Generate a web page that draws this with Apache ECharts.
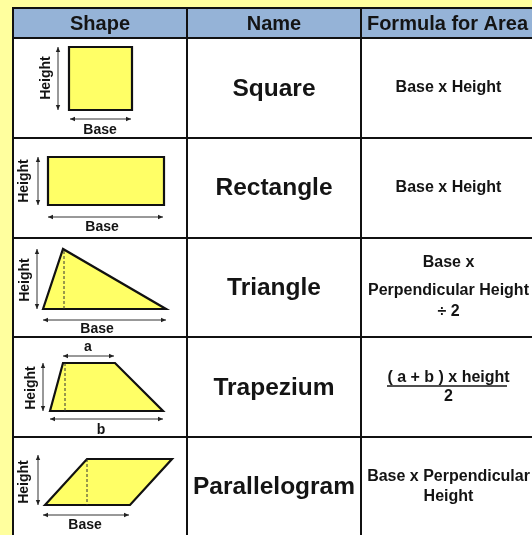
<!DOCTYPE html>
<html><head><meta charset="utf-8">
<script src="https://cdn.jsdelivr.net/npm/echarts@6/dist/echarts.min.js"></script>
<style>html,body{margin:0;padding:0;background:#FFFF9E;}#c{width:532px;height:535px;}</style>
</head><body><div id="c"></div>
<script>
// ---- data ----
const headers = ['Shape', 'Name', 'Formula for Area'];
const shapeNames = ['Square', 'Rectangle', 'Triangle', 'Trapezium', 'Parallelogram'];
const formulas = [
  ['Base x Height'],
  ['Base x Height'],
  ['Base x', 'Perpendicular Height', '÷ 2'],
  ['( a + b ) x height', '2'],
  ['Base x Perpendicular', 'Height']
];
// shape outlines (cell-relative drawing units)
const outlines = [
  [[56, 9], [119, 9], [119, 72], [56, 72]],
  [[35, 19], [151, 19], [151, 67], [35, 67]],
  [[30, 71], [50, 11], [153, 71]],
  [[37, 74], [50, 26], [102, 26], [150, 74]],
  [[32, 68], [74, 22], [159, 22], [117, 68]]
];
const perpendiculars = [null, null, [[51, 13], [51, 71]], [[52, 26], [52, 74]], [[74, 22], [74, 68]]];
// dimension marks: [label, from, to, labelPos, vertical]
const dimensions = [
  [['Height', [45, 9], [45, 72], [33, 40], true], ['Base', [57, 81], [118, 81], [87, 92], false]],
  [['Height', [25, 19], [25, 67], [11, 43], true], ['Base', [35, 79], [150, 79], [89, 89], false]],
  [['Height', [24, 11], [24, 71], [12, 42], true], ['Base', [30, 82], [153, 82], [84, 91], false]],
  [['Height', [30, 26], [30, 74], [18, 51], true], ['a', [50, 19], [101, 19], [75, 10], false], ['b', [37, 82], [150, 82], [88, 93], false]],
  [['Height', [25, 18], [25, 68], [11, 45], true], ['Base', [30, 78], [116, 78], [72, 88], false]]
];

// ---- layout ----
const colEdges = [13, 187, 361, 534];
const rowEdges = [8, 38, 138, 238, 337, 437, 540];
const formulaLineY = [[50], [50], [25, 53, 74], [41, 60], [40, 60]];
const nameY = [51, 50, 50, 51, 50];
const underline = {row: 3, y: 49, x1: 387, x2: 507};
const FONT = '"Liberation Sans", Arial, sans-serif';
const BORDER = '#111';

const cellData = [];
for (let r = 0; r <= shapeNames.length; r++) for (let c = 0; c < headers.length; c++) cellData.push([c, r]);

function textEl(x, y, txt, size, rot) {
  const el = {type: 'text', x: x, y: y, style: {text: txt, x: 0, y: 0, align: 'center', verticalAlign: 'middle',
    font: 'bold ' + size + 'px ' + FONT, fill: '#141414'}};
  if (rot) el.rotation = rot;
  return el;
}

function renderCell(params, api) {
  const c = api.value(0), r = api.value(1);
  const p0 = api.coord([colEdges[c], rowEdges[r]]);
  const p1 = api.coord([colEdges[c + 1], rowEdges[r + 1]]);
  const children = [{type: 'rect', shape: {x: p0[0], y: p0[1], width: p1[0] - p0[0], height: p1[1] - p0[1]},
    style: {fill: r === 0 ? '#95B3D7' : '#FFFFFF', stroke: BORDER, lineWidth: 2}}];
  const cx = (colEdges[c] + colEdges[c + 1]) / 2;
  if (r === 0) {
    const p = api.coord([cx, (rowEdges[0] + rowEdges[1]) / 2 + 1]);
    children.push(textEl(p[0], p[1], headers[c], 20));
  } else {
    const i = r - 1, top = rowEdges[r];
    if (c === 1) {
      const p = api.coord([cx, top + nameY[i]]);
      children.push(textEl(p[0], p[1], shapeNames[i], 24.5));
    } else if (c === 2) {
      formulas[i].forEach(function (line, k) {
        const p = api.coord([cx + 1, top + formulaLineY[i][k]]);
        children.push(textEl(p[0], p[1], line, 16));
      });
      if (i === underline.row) {
        const a = api.coord([underline.x1, top + underline.y]);
        const b = api.coord([underline.x2, top + underline.y]);
        children.push({type: 'line', shape: {x1: a[0], y1: a[1], x2: b[0], y2: b[1]}, style: {stroke: '#141414', lineWidth: 1.5}});
      }
    }
  }
  return {type: 'group', children: children};
}

function arrowHead(tip, dir) {
  const L = 5, W = 2.2;
  const nx = -dir[1], ny = dir[0];
  return {type: 'polygon', shape: {points: [tip,
    [tip[0] - dir[0] * L + nx * W, tip[1] - dir[1] * L + ny * W],
    [tip[0] - dir[0] * L - nx * W, tip[1] - dir[1] * L - ny * W]]}, style: {fill: '#222'}};
}

function renderShape(params, api) {
  const i = api.value(0);
  const x0 = colEdges[0], y0 = rowEdges[i + 1];
  const P = function (pt) { return api.coord([x0 + pt[0], y0 + pt[1]]); };
  const children = [];
  children.push({type: 'polygon', shape: {points: outlines[i].map(P)},
    style: {fill: '#FFFF66', stroke: '#111', lineWidth: 2.2, lineJoin: 'miter'}});
  if (perpendiculars[i]) {
    const a = P(perpendiculars[i][0]), b = P(perpendiculars[i][1]);
    children.push({type: 'line', shape: {x1: a[0], y1: a[1], x2: b[0], y2: b[1]},
      style: {stroke: '#333', lineWidth: 1, lineDash: [3, 2]}});
  }
  dimensions[i].forEach(function (d) {
    const a = P(d[1]), b = P(d[2]);
    const len = Math.hypot(b[0] - a[0], b[1] - a[1]);
    const dir = [(b[0] - a[0]) / len, (b[1] - a[1]) / len];
    children.push({type: 'line', shape: {x1: a[0], y1: a[1], x2: b[0], y2: b[1]}, style: {stroke: '#333', lineWidth: 1}});
    children.push(arrowHead(b, dir));
    children.push(arrowHead(a, [-dir[0], -dir[1]]));
    const lp = P(d[3]);
    children.push(textEl(lp[0], lp[1], d[0], 14, d[4] ? Math.PI / 2 : 0));
  });
  return {type: 'group', children: children};
}

const chart = echarts.init(document.getElementById('c'), null, {renderer: 'canvas'});
chart.setOption({
  backgroundColor: '#FFFF9E',
  animation: false,
  grid: {left: 0, right: 0, top: 0, bottom: 0},
  xAxis: {type: 'value', min: 0, max: 532, show: false},
  yAxis: {type: 'value', min: 0, max: 535, inverse: true, show: false},
  series: [
    {type: 'custom', name: 'cells', coordinateSystem: 'cartesian2d', data: cellData, renderItem: renderCell, silent: true, clip: false},
    {type: 'custom', name: 'shapes', coordinateSystem: 'cartesian2d', data: shapeNames.map(function (n, k) { return [k]; }), renderItem: renderShape, silent: true, clip: false}
  ]
});
</script></body></html>
